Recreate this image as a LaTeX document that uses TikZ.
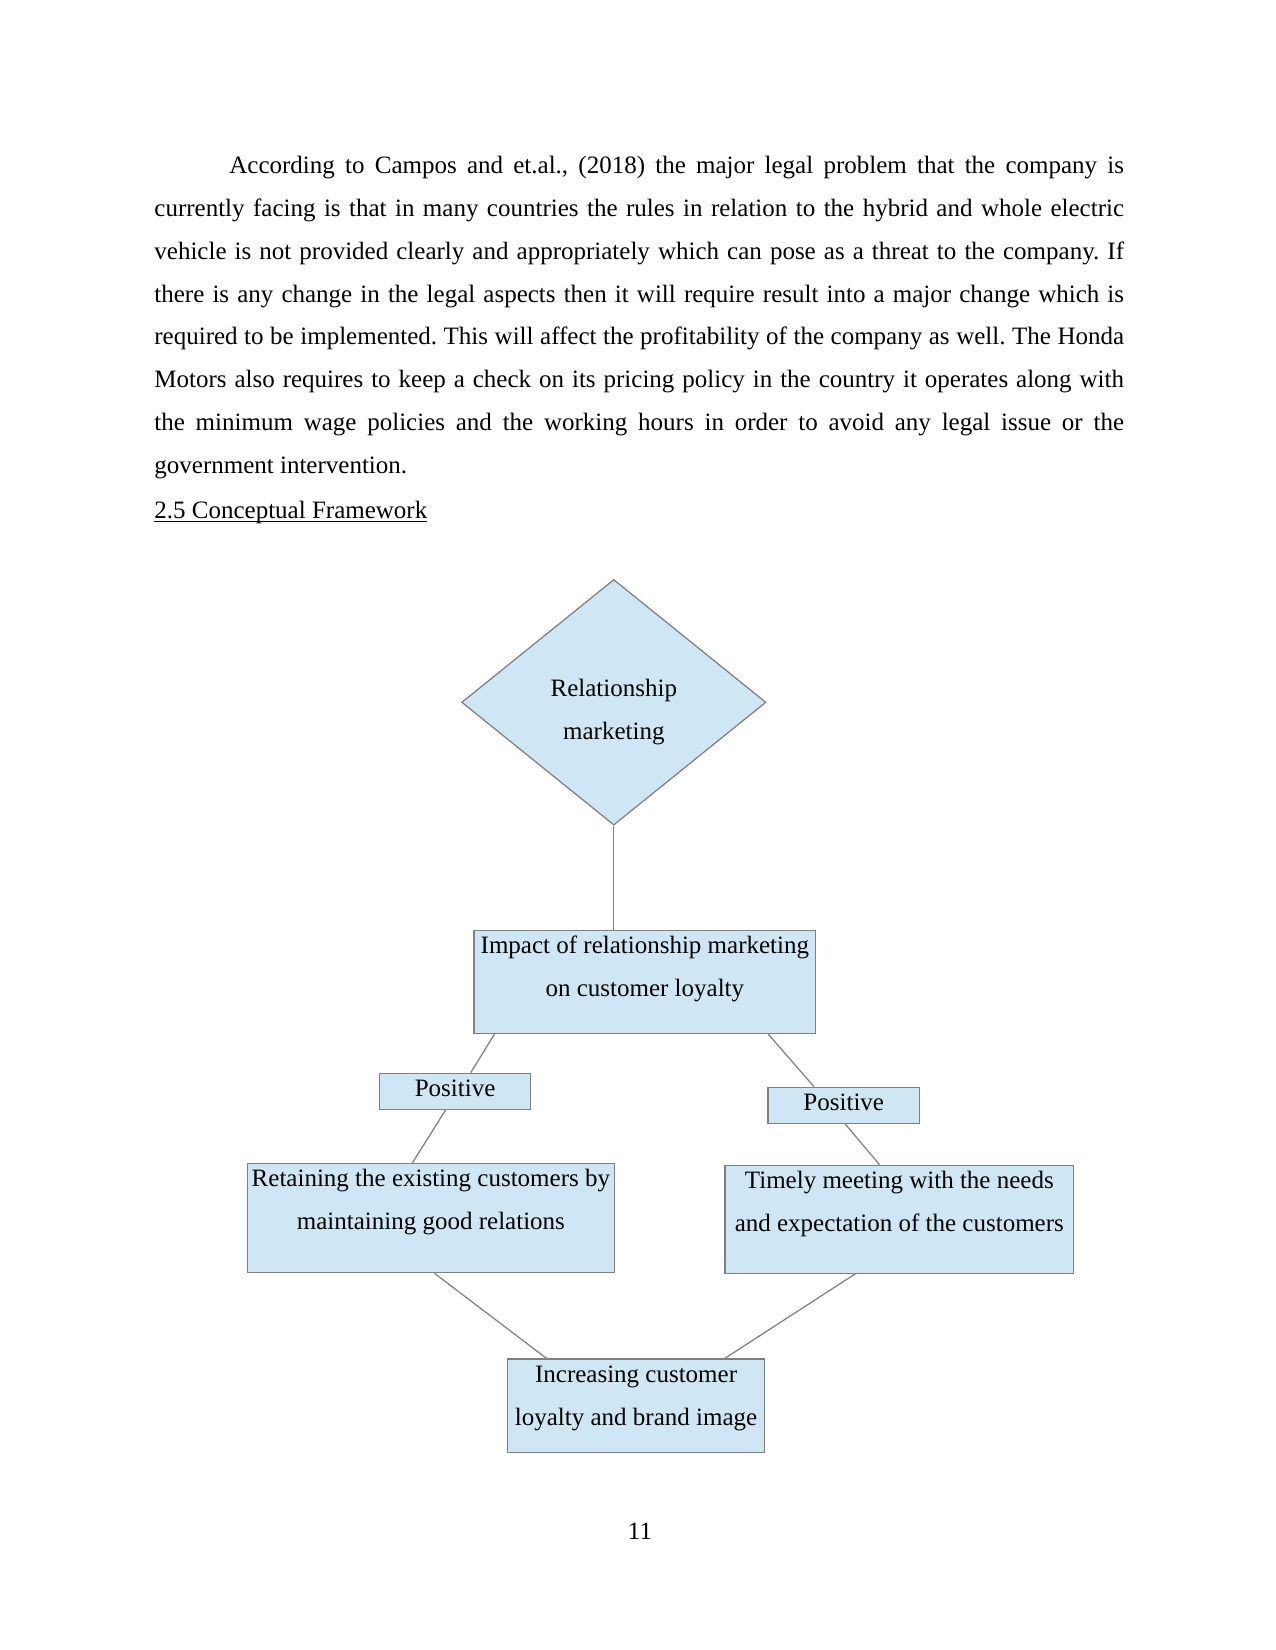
\documentclass[tikz,border=0pt]{standalone}
\usepackage{fontspec}
\setmainfont{Liberation Serif}
\usepackage{xcolor}
\usetikzlibrary{shapes.geometric,calc}

\definecolor{boxfill}{RGB}{207,230,244}
\definecolor{boxline}{RGB}{128,128,128}
\newcommand{\ulinetext}[1]{\setbox0\hbox{#1}\rlap{\rule[-1.7pt]{\wd0}{0.5pt}}\box0}

\begin{document}
\begin{tikzpicture}[
  x=0.48pt, y=-0.48pt,
  every node/.style={inner sep=0pt, font=\fontsize{12pt}{20.6pt}\selectfont},
  box/.style={draw=boxline, fill=boxfill, line width=0.6pt, anchor=north west, text height=11.3pt},
  link/.style={draw=boxline, line width=0.6pt}
]
\useasboundingbox (0,0) rectangle (1275,1650);

% BODY TEXT
\node (para) [anchor=base west] at (154,173.3)
  {\parbox[t]{465.4pt}{\frenchspacing\hyphenpenalty=10000
   \hspace*{36pt}According to Campos and et.al., (2018) the major legal problem that the company is\linebreak
   currently facing is that in many countries the rules in relation to the hybrid and whole electric\linebreak
   vehicle is not provided clearly and appropriately which can pose as a threat to the company. If\linebreak
   there is any change in the legal aspects then it will require result into a major change which is\linebreak
   required to be implemented. This will affect the profitability of the company as well. The Honda\linebreak
   Motors also requires to keep a check on its pricing policy in the country it operates along with\linebreak
   the minimum wage policies and the working hours in order to avoid any legal issue or the\linebreak
   government intervention.}};
\node (heading) [anchor=base west] at (154,518) {\ulinetext{2.5 Conceptual Framework}};

% DIAGRAM
\node (relmkt) [diamond, draw=boxline, fill=boxfill, line width=0.6pt,
  minimum width=146.1pt, minimum height=117.9pt, text height=8pt, text depth=13.3pt]
  at (613.8,702.3) {\parbox[t]{80pt}{\centering Relationship\\marketing}};

\node (impact) [box, text depth=38.4pt] at (473.4,929.5)
  {\parbox[t]{164pt}{\centering Impact of relationship marketing\\on customer loyalty}};

\node (posl) [box, text depth=5.9pt] at (378.7,1072.7) {\parbox[t]{72.7pt}{\centering Positive}};
\node (posr) [box, text depth=5.9pt] at (767.4,1086.7) {\parbox[t]{72.7pt}{\centering Positive}};

\node (retain) [box, text depth=41.2pt] at (246.5,1162.7)
  {\parbox[t]{176.4pt}{\centering Retaining the existing customers by\\maintaining good relations}};
\node (timely) [box, text depth=40.5pt] at (724.4,1164.6)
  {\parbox[t]{167.3pt}{\centering Timely meeting with the needs\\and expectation of the customers}};

\node (incr) [box, text depth=33.7pt] at (506.9,1358.3)
  {\parbox[t]{123.4pt}{\centering Increasing customer\\loyalty and brand image}};

\draw[link] (relmkt.south) -- (relmkt.south |- impact.north);
\draw[link] ($(impact.south west)+(21,0)$)  -- ($(posl.north west)+(92,0)$);
\draw[link] ($(posl.south west)+(67,0)$)    -- ($(retain.north west)+(166,0)$);
\draw[link] ($(impact.south west)+(295,0)$) -- ($(posr.north west)+(46.6,0)$);
\draw[link] ($(posr.south west)+(77.6,0)$)  -- ($(timely.north west)+(155,0)$);
\draw[link] ($(retain.south west)+(188,0)$) -- ($(incr.north west)+(39.5,0)$);
\draw[link] ($(timely.south west)+(131,0)$) -- ($(incr.north west)+(218,0)$);

% PAGE NUMBER
\node (pagenum) [anchor=base] at (640,1539) {11};
\end{tikzpicture}
\end{document}
